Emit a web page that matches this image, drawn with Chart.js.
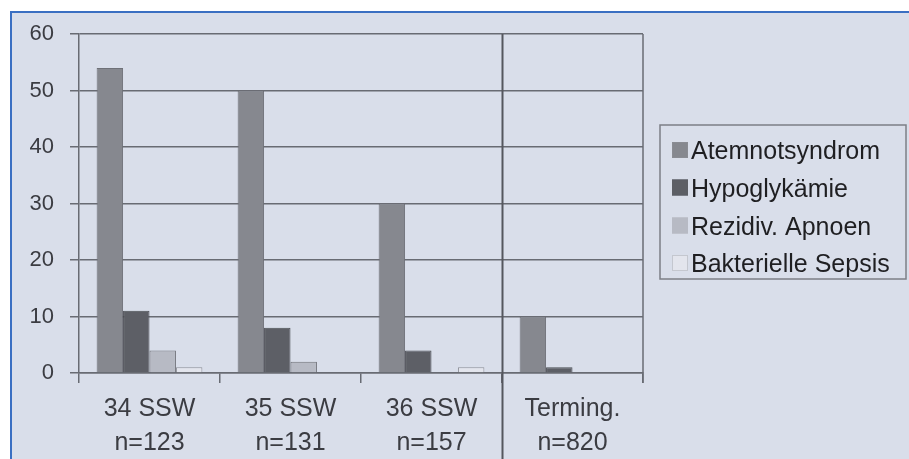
<!DOCTYPE html>
<html>
<head>
<meta charset="utf-8">
<script src="https://cdn.jsdelivr.net/npm/chart.js@4/dist/chart.umd.min.js"></script>
<style>
  html, body { margin: 0; padding: 0; background: #ffffff; }
  #wrap { width: 909px; height: 459px; }
</style>
</head>
<body>
<div id="wrap"><canvas id="c" width="909" height="459"></canvas></div>
<script>
// Gestational-age groups (two-line axis labels)
const categories = [
  ["34 SSW", "n=123"],
  ["35 SSW", "n=131"],
  ["36 SSW", "n=157"],
  ["Terming.", "n=820"]
];
// Rates per group (%)
const atemnotsyndrom = [54, 50, 30, 10];
const hypoglykaemie = [11, 8, 4, 1];
const rezidivApnoen = [4, 2, 0, 0];
const bakterielleSepsis = [1, 0, 1, 0];
const seriesNames = ["Atemnotsyndrom", "Hypoglykämie", "Rezidiv. Apnoen", "Bakterielle Sepsis"];
const yMin = 0, yMax = 60, yStep = 10;

const BG = '#d9deea';
const GRID = '#686b73';
const TEXT = '#3b3c42';

// Frame: white margin, blue rule lines, tinted panel
const framePlugin = {
  id: 'frame',
  beforeDraw(chart) {
    const ctx = chart.ctx;
    ctx.save();
    ctx.fillStyle = '#ffffff';
    ctx.fillRect(0, 0, chart.width, chart.height);
    ctx.fillStyle = BG;
    ctx.fillRect(11, 13, chart.width - 11, chart.height - 13);
    ctx.strokeStyle = '#3a6fc2';
    ctx.lineWidth = 2;
    ctx.beginPath();
    ctx.moveTo(10, 12); ctx.lineTo(chart.width, 12);
    ctx.moveTo(11, 12); ctx.lineTo(11, chart.height);
    ctx.stroke();
    ctx.restore();
  }
};

// Right border of the plot and the separator before the term group
const dividerPlugin = {
  id: 'divider',
  afterDraw(chart) {
    const ctx = chart.ctx;
    const a = chart.chartArea;
    const xs = chart.scales.x;
    ctx.save();
    ctx.strokeStyle = GRID;
    ctx.lineWidth = 1.5;
    ctx.beginPath();
    ctx.moveTo(a.right, a.top); ctx.lineTo(a.right, a.bottom + 10);
    ctx.stroke();
    const xSep = Math.round(xs.getPixelForValue(2.5)) + 0.5;
    ctx.strokeStyle = '#55575e';
    ctx.lineWidth = 2;
    ctx.beginPath();
    ctx.moveTo(xSep, a.top); ctx.lineTo(xSep, chart.height);
    ctx.stroke();
    ctx.restore();
  }
};

// Boxed legend to the right of the plot
const boxLegendPlugin = {
  id: 'boxLegend',
  afterDraw(chart) {
    const ctx = chart.ctx;
    const left = 660, top = 125, right = 906, bottom = 279;
    ctx.save();
    ctx.strokeStyle = '#7c7f86';
    ctx.lineWidth = 1.5;
    ctx.strokeRect(left, top, right - left, bottom - top);
    ctx.font = '25px "Liberation Sans", Arial, sans-serif';
    ctx.textBaseline = 'alphabetic';
    ctx.textAlign = 'left';
    const baselines = [159, 196.5, 234.5, 272];
    chart.data.datasets.forEach((ds, i) => {
      const y = baselines[i];
      ctx.fillStyle = ds.backgroundColor;
      ctx.fillRect(672, y - 17, 16, 16);
      ctx.strokeStyle = ds.legendEdge;
      ctx.lineWidth = 1;
      ctx.strokeRect(672.5, y - 16.5, 15, 15);
      ctx.fillStyle = '#1f1f22';
      ctx.fillText(ds.label, 691, y);
    });
    ctx.restore();
  }
};

const mk = (i, data, fill, edge, legendEdge) => ({
  label: seriesNames[i],
  data: data,
  backgroundColor: fill,
  borderColor: edge,
  borderWidth: 1,
  legendEdge: legendEdge,
  categoryPercentage: 0.75,
  barPercentage: 1.0
});

new Chart(document.getElementById('c'), {
  type: 'bar',
  data: {
    labels: categories,
    datasets: [
      mk(0, atemnotsyndrom, '#86888f', '#6f7178', '#8a8c93'),
      mk(1, hypoglykaemie, '#5d5f66', '#4a4c52', '#5d5f66'),
      mk(2, rezidivApnoen, '#b7bac4', '#6e7077', '#b7bac4'),
      mk(3, bakterielleSepsis, '#e3e5ed', '#8e9098', '#c4c7cf')
    ]
  },
  options: {
    responsive: false,
    animation: false,
    layout: { padding: { left: 0, top: 34, right: 266, bottom: 0 } },
    plugins: {
      legend: { display: false },
      tooltip: { enabled: false }
    },
    scales: {
      x: {
        grid: {
          display: true,
          offset: true,
          drawOnChartArea: false,
          drawTicks: true,
          tickLength: 10,
          color: GRID,
          lineWidth: 1.5
        },
        border: { display: true, color: GRID, width: 1.5 },
        ticks: {
          color: TEXT,
          padding: 9,
          font: { family: '"Liberation Sans", Arial, sans-serif', size: 25, lineHeight: 1.36 }
        },
        afterFit(scale) { scale.height = 86; }
      },
      y: {
        min: yMin,
        max: yMax,
        ticks: {
          stepSize: yStep,
          color: TEXT,
          padding: 16,
          font: { family: '"Liberation Sans", Arial, sans-serif', size: 22 }
        },
        grid: {
          color: GRID,
          lineWidth: 1.5,
          tickLength: 9
        },
        border: { display: true, color: GRID, width: 1.5 },
        afterFit(scale) { scale.width = 79; }
      }
    }
  },
  plugins: [framePlugin, dividerPlugin, boxLegendPlugin]
});
</script>
</body>
</html>
